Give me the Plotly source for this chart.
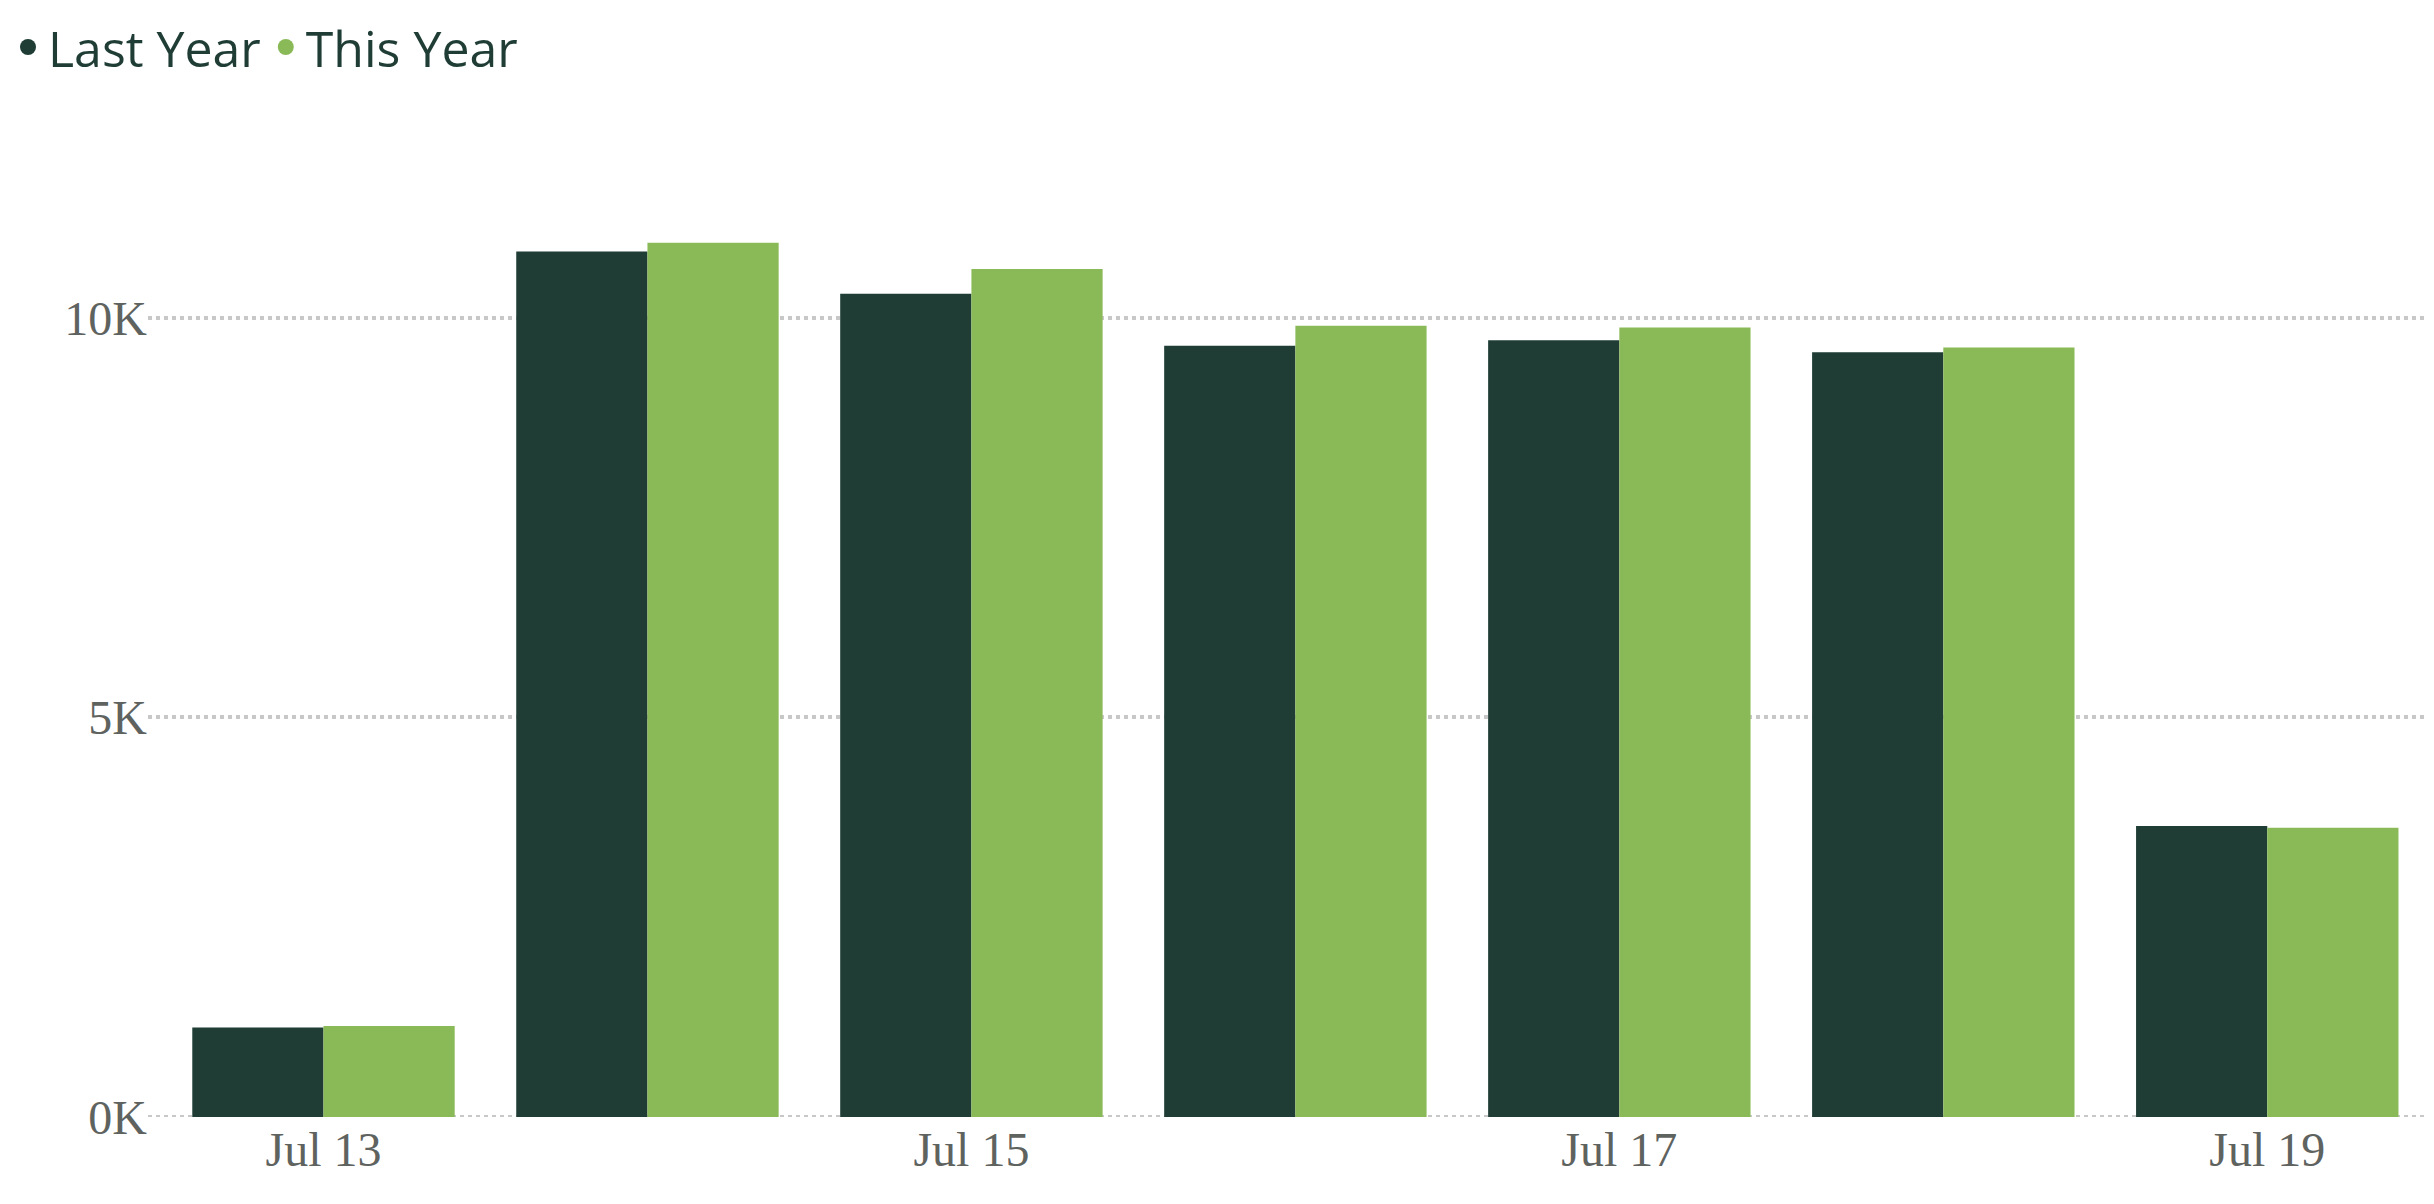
import plotly.graph_objects as go

dates = ["2024-07-13", "2024-07-14", "2024-07-15", "2024-07-16",
         "2024-07-17", "2024-07-18", "2024-07-19"]
last_year = [1120, 10830, 10300, 9650, 9720, 9570, 3640]
this_year = [1140, 10940, 10610, 9900, 9880, 9630, 3620]
names = ["Last Year", "This Year"]
colors = ["#1f3d35", "#8aba57"]

fig = go.Figure()
for name, vals, col in zip(names, [last_year, this_year], colors):
    fig.add_trace(go.Bar(x=dates, y=vals, name=name, marker_color=col,
                         marker_line_width=0, showlegend=False))
# legend entries with round markers
for name, col in zip(names, colors):
    fig.add_trace(go.Scatter(x=[None], y=[None], mode="markers", name=name,
                             marker=dict(color=col, size=48, symbol="circle")))

fig.update_layout(
    width=2434, height=1204,
    barmode="group", bargap=0.19, bargroupgap=0,
    plot_bgcolor="white", paper_bgcolor="white",
    margin=dict(l=140, r=6, t=150, b=95),
    legend=dict(orientation="h", x=0, y=1, xanchor="left", yanchor="top",
                xref="container", yref="container", itemwidth=30,
                font=dict(family="Open Sans", size=50, color="#1f3d35"),
                traceorder="normal"),
)
fig.update_xaxes(type="date", tickformat="%b %d", dtick=2 * 86400000,
                 tick0="2024-07-13", range=["2024-07-12 11:00", "2024-07-19 12:30"],
                 showgrid=False, ticks="",
                 tickfont=dict(family="Liberation Serif", size=48, color="#5f6360"))
fig.update_yaxes(range=[0, 12000], tickvals=[0, 5000, 10000],
                 ticktext=["0K", "5K", "10K"],
                 showgrid=True, gridcolor="#c8c8c8", griddash="dot", gridwidth=4,
                 zeroline=True, zerolinecolor="#c8c8c8", zerolinewidth=4,
                 tickfont=dict(family="Liberation Serif", size=48, color="#5f6360"))
fig.add_hline(y=0, line=dict(color="#c8c8c8", width=4, dash="dot"), layer="below")
fig.update_yaxes(zeroline=False)

fig.write_html("out.html")
